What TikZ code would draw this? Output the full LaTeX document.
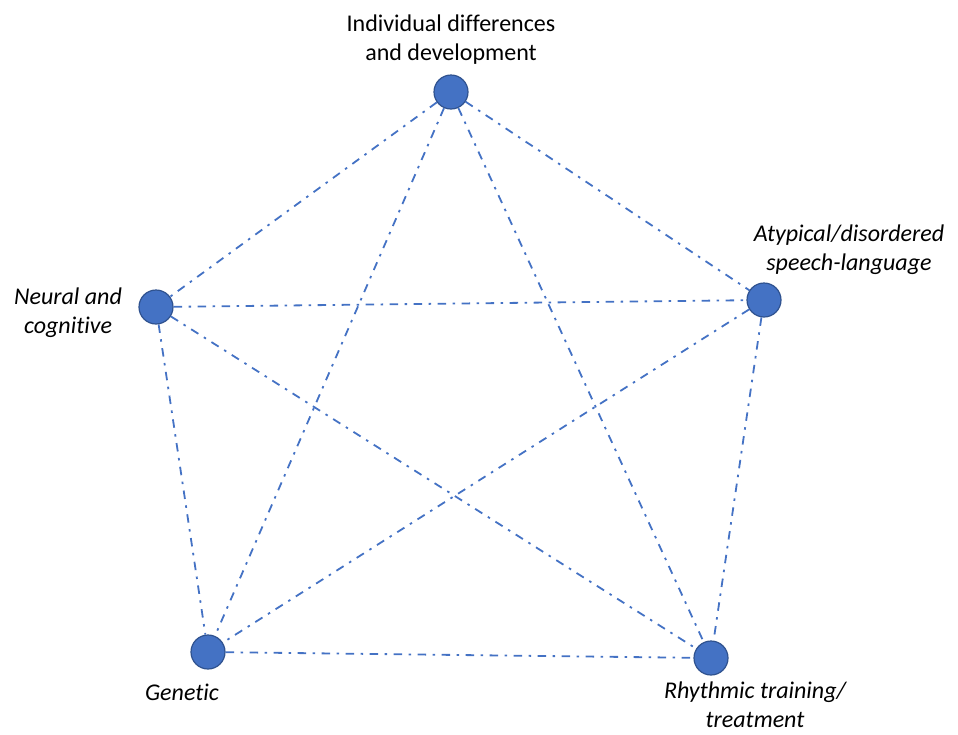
\documentclass[tikz,border=0pt]{standalone}
\usepackage{fontspec}
\setmainfont[Ligatures=NoCommon]{Carlito}
\definecolor{nodefill}{HTML}{4472C4}
\definecolor{nodeedge}{HTML}{2F528F}
\definecolor{linkcol}{HTML}{4472C4}
\begin{document}
\begin{tikzpicture}[x=1pt,y=-1pt,
  dot/.style={circle,fill=nodefill,draw=nodeedge,line width=1.2pt,minimum size=34pt,inner sep=0pt},
  link/.style={draw=linkcol,line width=1.8pt,dash pattern=on 8.5pt off 6.5pt on 2.5pt off 6.5pt},
  lab/.style={font=\fontsize{24}{29}\selectfont,align=center,inner sep=0pt},
  ilab/.style={lab,font=\fontsize{24}{29}\selectfont\itshape}]
\useasboundingbox (0,0) rectangle (958,734);
\node[dot] (top) at (451,92) {};
\node[dot] (neu) at (156,307) {};
\node[dot] (aty) at (764,300) {};
\node[dot] (gen) at (208,652) {};
\node[dot] (rhy) at (711,658) {};
\foreach \a/\b in {top/neu,top/aty,top/gen,top/rhy,neu/aty,neu/gen,neu/rhy,aty/gen,aty/rhy,gen/rhy}
  \draw[link] (\a) -- (\b);
\node[lab] (toplab) at (451,40) {Individual differences\\and development};
\node[ilab] (neulab) at (68,313) {Neural and\\cognitive};
\node[ilab] (atylab) at (849,250) {Atypical/disordered\\speech-language};
\node[ilab,anchor=base] (genlab) at (182,700) {Genetic};
\node[ilab] (rhylab) at (755,705) {Rhythmic training/\\treatment};
\end{tikzpicture}
\end{document}
